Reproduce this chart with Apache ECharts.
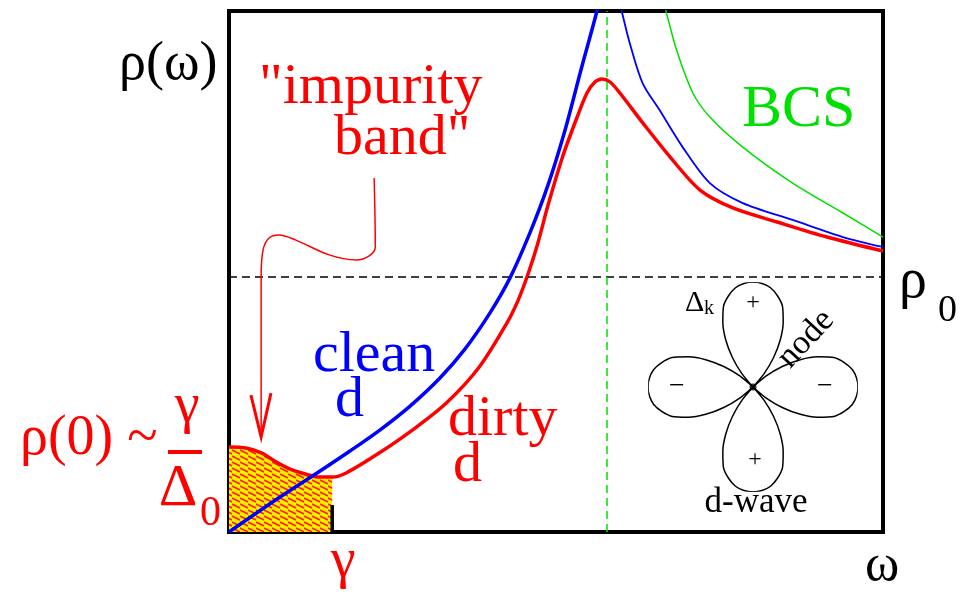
<!DOCTYPE html>
<html>
<head>
<meta charset="utf-8">
<script src="https://cdn.jsdelivr.net/npm/echarts@6/dist/echarts.min.js"></script>
<style>html,body{margin:0;padding:0;background:#fff;}#c{width:963px;height:597px;}</style>
</head>
<body>
<div id="c"></div>
<script>
// ---- data (omega in units of Delta0, rho in units of rho0) ----
const gammaVal = 0.273;
const delta0 = 1;
const rho0 = 1;

const cleanLeftOmega = [0, 0.135, 0.233, 0.320, 0.399, 0.479, 0.558, 0.624, 0.690, 0.743, 0.796, 0.844, 0.889, 0.931, 0.974, 0.981];
const cleanLeftRho   = [0, 0.137, 0.231, 0.317, 0.399, 0.493, 0.603, 0.716, 0.857, 0.994, 1.171, 1.359, 1.574, 1.809, 2.044, 2.10];

const cleanRightOmega = [1.028, 1.038, 1.060, 1.094, 1.139, 1.200, 1.272, 1.359, 1.491, 1.624, 1.730];
const cleanRightRho   = [2.10, 2.044, 1.915, 1.758, 1.652, 1.507, 1.366, 1.288, 1.222, 1.155, 1.116];

const dirtyOmega = [0, 0.045, 0.087, 0.125, 0.167, 0.212, 0.238, 0.273, 0.310, 0.397, 0.485, 0.575, 0.662, 0.735, 0.765, 0.791, 0.817, 0.844, 0.884, 0.921, 0.947, 0.968, 0.987, 1.008, 1.034, 1.095, 1.167, 1.246, 1.333, 1.450, 1.582, 1.730];
const dirtyRho   = [0.333, 0.329, 0.309, 0.274, 0.243, 0.223, 0.215, 0.215, 0.231, 0.309, 0.399, 0.505, 0.646, 0.818, 0.908, 1.010, 1.131, 1.280, 1.476, 1.625, 1.719, 1.762, 1.774, 1.762, 1.719, 1.601, 1.468, 1.339, 1.269, 1.214, 1.155, 1.100];

const bcsOmega = [1.144, 1.155, 1.184, 1.227, 1.272, 1.359, 1.491, 1.624, 1.730];
const bcsRho   = [2.10, 2.044, 1.887, 1.719, 1.625, 1.507, 1.366, 1.249, 1.155];

// annotation arrow ("impurity band" -> fill)
const arrowOmega = [0.384, 0.387, 0.371, 0.336, 0.265, 0.177, 0.132, 0.106, 0.090, 0.085, 0.085];
const arrowRho   = [1.386, 1.116, 1.081, 1.065, 1.085, 1.143, 1.163, 1.151, 1.104, 0.998, 0.399];
const arrowHeadOmega = [0.058, 0.085, 0.111];
const arrowHeadRho   = [0.536, 0.372, 0.544];
const gammaTickRho = [0, 0.106];

// d-wave gap |Delta_k| profile vs. angle offset from a lobe axis (degrees)
const lobeOffsets = [0, 5, 10, 15, 20, 25, 30, 35, 40, 45];
const lobeRadius  = [1, 0.99, 0.96, 0.90, 0.82, 0.68, 0.52, 0.34, 0.16, 0];
const lobeAxes = [0, 90, 180, 270];

// ---- build ----
const zip = (a, b) => a.map((v, i) => [v, b[i]]);
const fillData = zip(dirtyOmega, dirtyRho).filter(p => p[0] <= gammaVal + 1e-9);

const lobeData = [];
lobeAxes.forEach(a => {
  for (let k = -(lobeOffsets.length - 1); k <= lobeOffsets.length - 1; k++) {
    const idx = Math.abs(k);
    const off = (k < 0 ? -1 : 1) * lobeOffsets[idx];
    lobeData.push([lobeRadius[idx], a + off]);
  }
});

// hatch pattern (yellow with red stripes)
const pc = document.createElement('canvas');
pc.width = 8; pc.height = 6;
const g = pc.getContext('2d');
g.fillStyle = '#ffee00'; g.fillRect(0, 0, 8, 6);
g.strokeStyle = '#ff2000'; g.lineWidth = 1.6;
g.beginPath();
for (let o = -12; o <= 12; o += 6) { g.moveTo(0, o + 0); g.lineTo(8, o + 4); }
g.stroke();

const FF = '"Liberation Serif","Times New Roman",serif';
function txt(text, x, y, size, color, align, extra) {
  return Object.assign({
    type: 'text', x: x, y: y, z: 100,
    style: { text: text, fontSize: size, fontFamily: FF, fill: color, align: align || 'left', verticalAlign: 'middle' }
  }, extra || {});
}

const chart = echarts.init(document.getElementById('c'), null, { renderer: 'canvas' });
chart.setOption({
  animation: false,
  backgroundColor: '#fff',
  grid: { left: 229, right: 80, top: 11, bottom: 65, show: true, borderColor: '#000', borderWidth: 4, backgroundColor: 'transparent' },
  xAxis: { type: 'value', min: 0, max: 1.73, show: false },
  yAxis: { type: 'value', min: 0, max: 2.04, show: false },
  polar: { center: [753, 387], radius: 105 },
  angleAxis: { type: 'value', min: 0, max: 360, startAngle: 0, clockwise: false, show: false,
    axisLine: { show: false }, splitLine: { show: false }, axisTick: { show: false }, axisLabel: { show: false } },
  radiusAxis: { type: 'value', min: 0, max: 1, show: false,
    axisLine: { show: false }, splitLine: { show: false }, axisTick: { show: false }, axisLabel: { show: false } },
  series: [
    { type: 'line', data: fillData, symbol: 'none', smooth: 0.3, lineStyle: { width: 0 },
      areaStyle: { color: { image: pc, repeat: 'repeat' }, opacity: 1 }, z: 1, silent: true },
    { type: 'line', data: [[gammaVal, gammaTickRho[0]], [gammaVal, gammaTickRho[1]]], symbol: 'none',
      lineStyle: { color: '#000', width: 3.5 }, z: 2, silent: true },
    { type: 'line', data: zip(bcsOmega, bcsRho), symbol: 'none', smooth: 0.3,
      lineStyle: { color: '#00e000', width: 1.5 }, z: 3, silent: true,
      markLine: { silent: true, symbol: ['none', 'none'], label: { show: false },
        data: [
          { yAxis: rho0, lineStyle: { color: '#000', width: 1.5, type: [8, 5] } },
          { xAxis: delta0, lineStyle: { color: '#00e000', width: 1.5, type: [8, 5] } }
        ] } },
    { type: 'line', data: zip(dirtyOmega, dirtyRho), symbol: 'none', smooth: 0.3,
      lineStyle: { color: '#ff0000', width: 3.5 }, z: 4, silent: true },
    { type: 'line', data: zip(cleanLeftOmega, cleanLeftRho), symbol: 'none', smooth: 0.3,
      lineStyle: { color: '#0000ff', width: 3.5 }, z: 5, silent: true },
    { type: 'line', data: zip(cleanRightOmega, cleanRightRho), symbol: 'none', smooth: 0.3,
      lineStyle: { color: '#0000ff', width: 1.8 }, z: 5, silent: true },
    { type: 'line', data: zip(arrowOmega, arrowRho), symbol: 'none', smooth: 0.35,
      lineStyle: { color: '#ff0000', width: 1.5 }, z: 6, silent: true },
    { type: 'line', data: zip(arrowHeadOmega, arrowHeadRho), symbol: 'none',
      lineStyle: { color: '#ff0000', width: 3, join: 'miter' }, z: 6, silent: true },
    { type: 'line', coordinateSystem: 'polar', data: lobeData, symbol: 'none', smooth: 0.2,
      lineStyle: { color: '#000', width: 1.5 }, z: 7, silent: true },
    { type: 'scatter', coordinateSystem: 'polar', data: [[0, 0]], symbolSize: 7,
      itemStyle: { color: '#000' }, z: 8, silent: true }
  ],
  graphic: [
    txt('ρ(ω)', 119, 65, 54, '#000'),
    txt('"impurity', 259, 88, 58, '#ff0000'),
    txt('band"', 334, 139, 58, '#ff0000'),
    txt('clean', 313, 356, 58, '#0000ff'),
    txt('d', 335, 401, 58, '#0000ff'),
    txt('dirty', 448, 420, 58, '#ff0000'),
    txt('d', 453, 466, 58, '#ff0000'),
    txt('BCS', 742, 110, 60, '#00e000'),
    txt('ρ', 899, 282, 56, '#000'),
    txt('0', 938, 311, 38, '#000'),
    txt('ρ(0) ~', 20, 439, 56, '#ff0000'),
    txt('γ', 187, 407, 56, '#ff0000', 'center'),
    { type: 'line', z: 100, shape: { x1: 168, y1: 452, x2: 202, y2: 452 }, style: { stroke: '#ff0000', lineWidth: 4 } },
    txt('Δ', 178, 489, 60, '#ff0000', 'center'),
    txt('0', 200, 514, 42, '#ff0000'),
    txt('γ', 343, 562, 56, '#ff0000', 'center'),
    txt('ω', 882, 566, 52, '#000', 'center'),
    txt('Δ', 685, 303, 30, '#000'),
    txt('k', 704, 309, 20, '#000'),
    txt('+', 753, 303, 24, '#000', 'center'),
    txt('+', 755, 460, 24, '#000', 'center'),
    txt('−', 677, 387, 28, '#000', 'center'),
    txt('−', 825, 387, 28, '#000', 'center'),
    txt('node', 806, 339, 34, '#000', 'center', { rotation: 47 * Math.PI / 180 }),
    txt('d-wave', 756, 503, 35, '#000', 'center')
  ]
});
</script>
</body>
</html>
